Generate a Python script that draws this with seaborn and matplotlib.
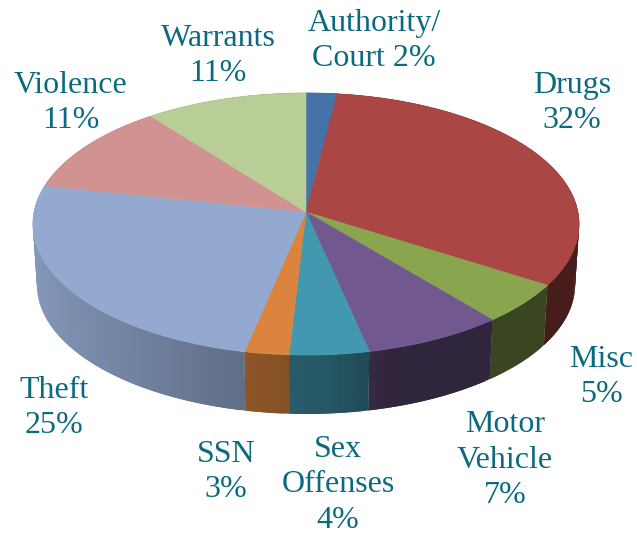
import numpy as np
import matplotlib
matplotlib.use("Agg")
import matplotlib.pyplot as plt
import seaborn as sns

categories = ["Authority", "Drugs", "Misc", "Motor Vehicle", "Sex Offenses", "SSN", "Theft", "Violence", "Warrants"]
shares = [2.0, 32.0, 5.0, 7.6, 4.3, 2.4, 25.0, 11.2, 10.5]
colors = ["#4572A7", "#AA4643", "#89A54E", "#71588F", "#4198AF", "#DB843D", "#93A9CF", "#D19392", "#B9CD96"]
label_texts = ["Authority/\nCourt 2%", "Drugs\n32%", "Misc\n5%", "Motor\nVehicle\n7%", "Sex\nOffenses\n4%",
               "SSN\n3%", "Theft\n25%", "Violence\n11%", "Warrants\n11%"]
label_x = [374, 572, 601, 505, 338, 226, 54, 71, 218]
label_y = [41, 103, 377, 460, 485, 472, 408, 103, 56]

sns.set_theme(style="white")
plt.rcParams["font.family"] = ["Liberation Serif", "DejaVu Serif"]

# pixel sized axes, y pointing down like the picture
fig = plt.figure(figsize=(6.37, 5.34), dpi=100)
ax = fig.add_axes([0, 0, 1, 1])
ax.set_xlim(0, 637)
ax.set_ylim(534, 0)
ax.axis("off")

CX, CY = 306, 212
SIDE_Y = 273


def project(theta, scale=1.0, cy=CY):
    # flat disc seen in perspective, theta clockwise from 12 o'clock
    x = np.sin(theta)
    z = np.cos(theta)
    w = 1 + 0.0916 * z
    return CX + scale * 272 * x / w, cy - scale * 130 * z / w


def side_shade(theta):
    return np.interp(np.sin(theta), [-1, -0.2, 0.1, 0.3, 1], [0.9, 0.65, 0.56, 0.42, 0.42])


edges = np.deg2rad(np.cumsum([0] + shares) / sum(shares) * 360)
palette = sns.color_palette(colors)

# rim first, the top face covers whatever is hidden
for i, col in enumerate(palette):
    steps = np.arange(edges[i], edges[i + 1], np.deg2rad(1.0))
    steps = np.append(steps, edges[i + 1])
    # next strip overlaps this one a bit so no seams show
    for t0, t1 in zip(steps[:-1], steps[1:]):
        t1b = min(t1 + np.deg2rad(1.0), edges[i + 1])
        x0, y0 = project(t0)
        x1, y1 = project(t1b)
        x2, y2 = project(t1b, 0.985, SIDE_Y)
        x3, y3 = project(t0, 0.985, SIDE_Y)
        shade = tuple(np.array(col) * side_shade((t0 + t1) / 2))
        ax.fill([x0, x1, x2, x3], [y0, y1, y2, y3], color=shade, lw=0)

for i, col in enumerate(palette):
    t = np.linspace(edges[i], edges[i + 1], 80)
    px, py = project(t)
    ax.fill(np.r_[CX, px], np.r_[CY, py], color=col, lw=0.4)

for txt, lx, ly in zip(label_texts, label_x, label_y):
    ax.text(lx, ly, txt, ha="center", va="center", ma="center", fontsize=23,
            color="#0B6A7E", linespacing=1.3)

fig.savefig("out.png", dpi=100)
